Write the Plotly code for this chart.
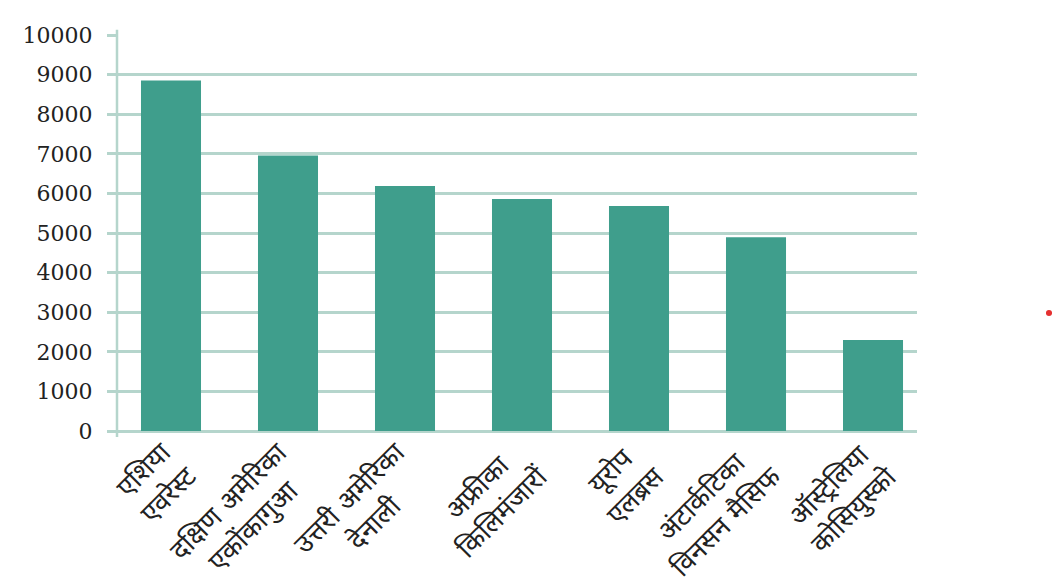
import plotly.graph_objects as go

categories = [
    "एशिया<br>एवरेस्ट",
    "दक्षिण अमेरिका<br>एकोंकागुआ",
    "उत्तरी अमेरिका<br>देनाली",
    "अफ्रीका<br>किलिमंजारों",
    "यूरोप<br>एलब्रस",
    "अंटार्कटिका<br>विनसन मैसिफ",
    "ऑस्ट्रेलिया<br>कोसियुस्को",
]
heights = [8850, 6960, 6190, 5860, 5680, 4892, 2300]
y_ticks = [0, 1000, 2000, 3000, 4000, 5000, 6000, 7000, 8000, 9000, 10000]

grid = "#b5d5cc"
bar_color = "#3f9e8c"
text_color = "#222222"
font_fam = "DejaVu Serif, Noto Sans Devanagari, Noto Serif Devanagari, serif"

xs = list(range(len(categories)))
fig = go.Figure(go.Bar(x=xs, y=heights,
                       marker=dict(color=bar_color, line=dict(width=0)), width=0.513))

annotations = [
    dict(x=i, xref="x", y=0, yref="paper", text=lab, showarrow=False,
         textangle=-45, align="center", xanchor="right", yanchor="top",
         xshift=34, yshift=-2,
         font=dict(family=font_fam, size=27, color=text_color))
    for i, lab in zip(xs, categories)
]

fig.update_layout(
    width=1053, height=583,
    margin=dict(l=117, r=136, t=35, b=152),
    plot_bgcolor="white", paper_bgcolor="white",
    showlegend=False,
    font=dict(family=font_fam, size=22, color=text_color),
    xaxis=dict(range=[-0.4615, 6.376], tickmode="array", tickvals=xs,
               showticklabels=False, showgrid=False, zeroline=False,
               showline=False, ticks=""),
    yaxis=dict(range=[0, 10000], tickmode="array", tickvals=y_ticks,
               ticktext=[str(v) for v in y_ticks],
               showgrid=True, gridcolor=grid, gridwidth=2.5,
               zeroline=True, zerolinecolor=grid, zerolinewidth=2.5,
               ticks="outside", ticklen=9, tickcolor=grid, tickwidth=2.5,
               ticklabelstandoff=10,
               showline=False, tickfont=dict(size=22, color=text_color)),
    annotations=annotations,
    shapes=[
        dict(type="line", xref="paper", yref="paper", x0=0, x1=0, y0=-0.015, y1=1.013,
             line=dict(color=grid, width=2.5)),
        dict(type="circle", xref="paper", yref="paper",
             x0=1.1612, x1=1.1688, y0=0.2905, y1=0.3055,
             fillcolor="#e53030", line=dict(width=0)),
    ],
)

fig.write_html("out.html")
